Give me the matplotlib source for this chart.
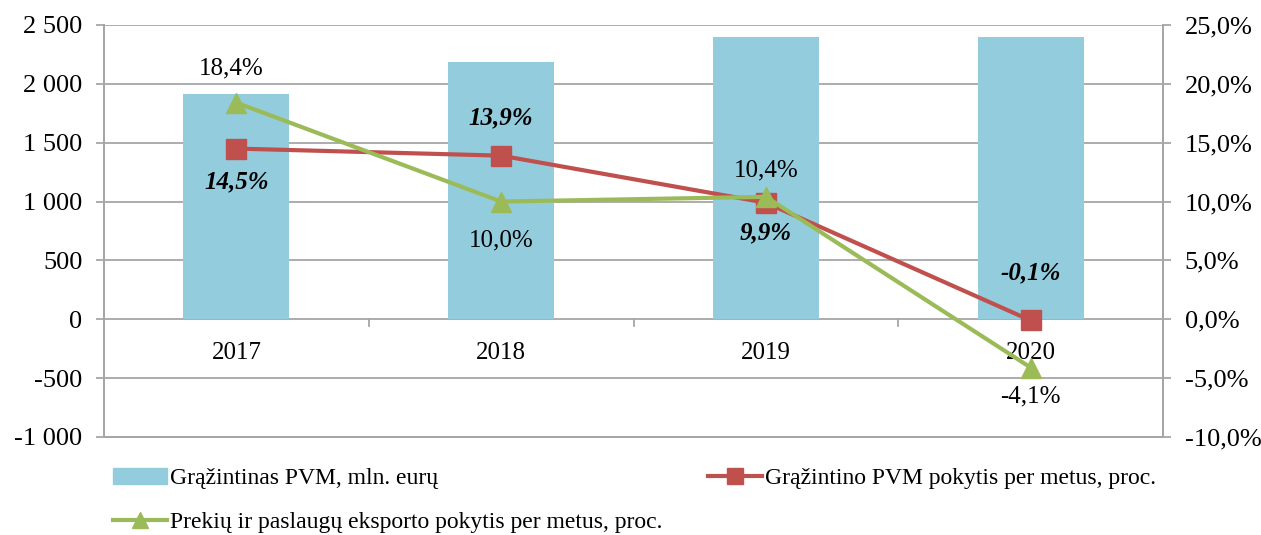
import matplotlib.pyplot as plt
import numpy as np
from matplotlib.patches import Patch
from matplotlib.lines import Line2D

plt.rcParams['font.family'] = ['Liberation Serif', 'DejaVu Serif']

years = ["2017", "2018", "2019", "2020"]
vat_refund = [1910, 2185, 2400, 2395]
vat_change = [14.5, 13.9, 9.9, -0.1]
export_change = [18.4, 10.0, 10.4, -4.1]

left_ticks = [-1000, -500, 0, 500, 1000, 1500, 2000, 2500]
right_ticks = [-10, -5, 0, 5, 10, 15, 20, 25]

bar_color = "#93CDDD"
red = "#C0504D"
green = "#9BBB59"
grid_color = "#A6A6A6"

fig = plt.figure(figsize=(12.61, 5.35), dpi=100)
ax = fig.add_axes([0.0825, 0.1832, 0.8398, 0.7701])
ax2 = ax.twinx()

x = np.arange(len(years))
ax.bar(x, vat_refund, width=0.4, color=bar_color, zorder=2)
ax.set_xlim(-0.5, len(years) - 0.5)
ax.set_ylim(-1000, 2500)
ax.set_yticks(left_ticks)
ax.set_yticklabels([f"{v:,}".replace(",", " ") for v in left_ticks], fontsize=19)
ax.set_xticks([])
for v in left_ticks:
    ax.axhline(v, color=grid_color, lw=1.3, zorder=1)
# category ticks on the zero line
for b in np.arange(0.5, len(years) - 0.5, 1):
    ax.plot([b, b], [0, -60], color=grid_color, lw=1.3, zorder=1)
for i, y in enumerate(years):
    ax.annotate(y, (i, 0), xytext=(0, -24), textcoords="offset points",
                ha="center", va="center", fontsize=18)

for a in (ax, ax2):
    a.spines["top"].set_visible(False)
    for s in ("left", "right", "bottom"):
        a.spines[s].set_color(grid_color)
        a.spines[s].set_linewidth(1.3)
    a.tick_params(axis="y", color=grid_color, length=5.5, width=1.3, pad=10)

ax2.plot(x, vat_change, color=red, lw=3, marker="s", markersize=14, zorder=4)
ax2.plot(x, export_change, color=green, lw=3, marker="^", markersize=15, zorder=5)
ax2.set_ylim(-10, 25)
ax2.set_yticks(right_ticks)
ax2.set_yticklabels([f"{v:.1f}%".replace(".", ",") for v in right_ticks], fontsize=19)

# data labels (offsets in points)
red_off = [-24, 27, -22, 34]
green_off = [25, -28, 19, -21]
for i in range(len(years)):
    ax2.annotate(f"{vat_change[i]:.1f}%".replace(".", ","), (i, vat_change[i]),
                 xytext=(0, red_off[i]), textcoords="offset points", ha="center",
                 va="center", fontsize=18, fontweight="bold", fontstyle="italic")
    ax2.annotate(f"{export_change[i]:.1f}%".replace(".", ","), (i, export_change[i]),
                 xytext=(-4 if i == 0 else 0, green_off[i]), textcoords="offset points",
                 ha="center", va="center", fontsize=18)

handles = [
    Patch(color=bar_color, label="Grąžintinas PVM, mln. eurų"),
    Line2D([], [], color=green, lw=3, marker="^", markersize=12,
           label="Prekių ir paslaugų eksporto pokytis per metus, proc."),
    Line2D([], [], color=red, lw=3, marker="s", markersize=11,
           label="Grąžintino PVM pokytis per metus, proc."),
]
fig.legend(handles=handles, loc="upper left", bbox_to_anchor=(0.082, 0.143),
           ncol=2, frameon=False, fontsize=17, handlelength=2.3, handletextpad=0.1,
           columnspacing=1.95, labelspacing=0.95, borderaxespad=0)

plt.savefig("out.png", dpi=100)
